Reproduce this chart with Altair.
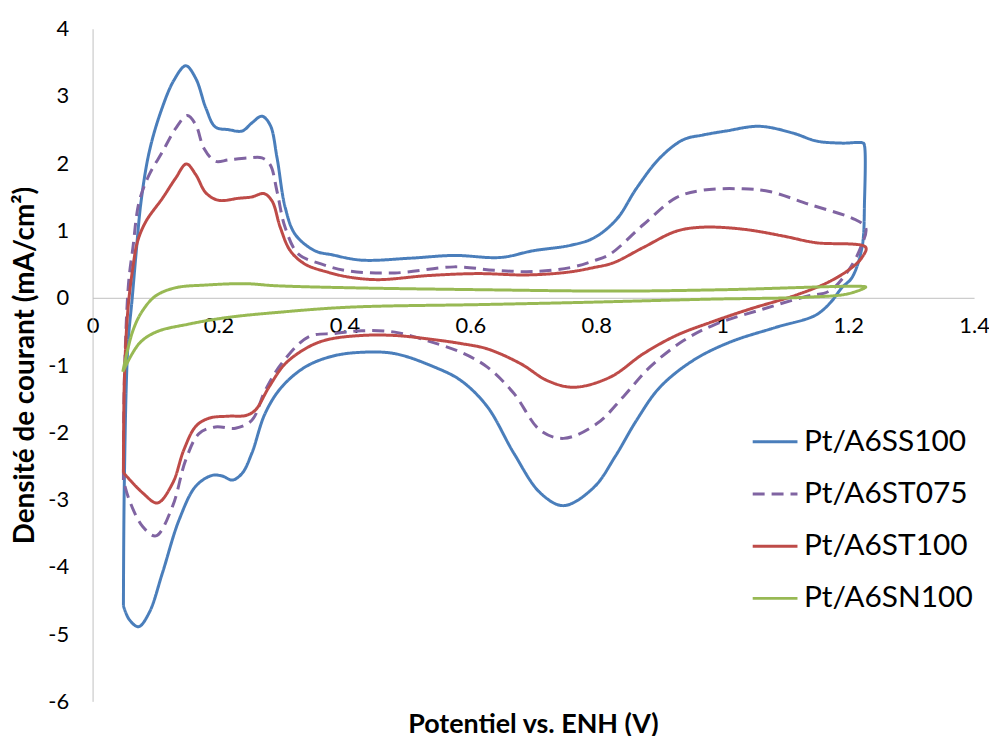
import altair as alt
import pandas as pd

SERIES = ["Pt/A6SS100", "Pt/A6ST075", "Pt/A6ST100", "Pt/A6SN100"]
COLORS = ["#4A7EBB", "#8064A2", "#BE4B48", "#98B954"]
DASHES = [[1, 0], [12, 7], [1, 0], [1, 0]]
X_TICKS = [0, 0.2, 0.4, 0.6, 0.8, 1.0, 1.2, 1.4]
Y_TICKS = [-6, -5, -4, -3, -2, -1, 0, 1, 2, 3, 4]

# Pt/A6SS100 (potential V, current density mA/cm2), anodic then cathodic scan
SS100_V = [0.049, 0.0505, 0.056, 0.063, 0.069, 0.077, 0.090, 0.1085, 0.1295, 0.148, 0.164, 0.180,
           0.195, 0.216, 0.2375, 0.253, 0.269, 0.282, 0.293, 0.306, 0.322, 0.353, 0.38, 0.427,
           0.506, 0.5745, 0.648, 0.70, 0.759, 0.796, 0.8325, 0.864, 0.901, 0.938, 0.969, 1.006,
           1.059, 1.112, 1.15, 1.19, 1.224, 1.226,
           1.226, 1.222, 1.206, 1.19, 1.172, 1.148, 1.085, 1.012, 0.954, 0.901, 0.864, 0.83, 0.796,
           0.748, 0.711, 0.669, 0.627, 0.585, 0.543, 0.48, 0.427, 0.38, 0.3375, 0.30, 0.274, 0.253,
           0.2375, 0.222, 0.206, 0.19, 0.164, 0.1375, 0.111, 0.090, 0.073, 0.058, 0.049]
SS100_J = [-4.58, -2.71, -0.73, 0.0, 0.65, 1.43, 2.17, 2.77, 3.24, 3.45, 3.26, 2.82,
           2.54, 2.50, 2.48, 2.60, 2.70, 2.57, 2.08, 1.34, 0.94, 0.70, 0.64, 0.56,
           0.59, 0.63, 0.60, 0.70, 0.78, 0.89, 1.17, 1.63, 2.08, 2.35, 2.42, 2.48,
           2.55, 2.45, 2.33, 2.30, 2.30, 2.26,
           1.44, 0.75, 0.30, 0.15, -0.07, -0.26, -0.44, -0.66, -0.93, -1.33, -1.82, -2.36, -2.82,
           -3.09, -2.90, -2.31, -1.62, -1.23, -1.03, -0.83, -0.81, -0.87, -1.03, -1.33, -1.72, -2.31,
           -2.61, -2.71, -2.65, -2.64, -2.80, -3.30, -4.09, -4.68, -4.89, -4.78, -4.58]

# Pt/A6ST075
ST075_V = [0.049, 0.0505, 0.057, 0.064, 0.074, 0.090, 0.111, 0.132, 0.1505, 0.164, 0.177, 0.195,
           0.216, 0.248, 0.269, 0.282, 0.293, 0.306, 0.327, 0.364, 0.406, 0.48, 0.5745, 0.638,
           0.70, 0.759, 0.796, 0.822, 0.875, 0.927, 0.969, 1.033, 1.075, 1.138, 1.212, 1.228,
           1.22, 1.20, 1.17, 1.133, 1.064, 0.99, 0.938, 0.885, 0.843, 0.801, 0.748, 0.711, 0.669,
           0.627, 0.585, 0.532, 0.48, 0.427, 0.385, 0.343, 0.30, 0.274, 0.253, 0.227, 0.195, 0.169,
           0.148, 0.127, 0.1005, 0.0795, 0.058, 0.049]
ST075_J = [-2.71, -1.23, 0.20, 0.74, 1.43, 1.83, 2.17, 2.52, 2.71, 2.57, 2.22, 2.03,
           2.05, 2.08, 2.08, 1.98, 1.58, 1.04, 0.65, 0.50, 0.40, 0.37, 0.46, 0.41,
           0.39, 0.45, 0.55, 0.65, 1.09, 1.49, 1.60, 1.62, 1.58, 1.39, 1.16, 1.04,
           0.75, 0.40, 0.10, 0.02, -0.17, -0.39, -0.64, -1.03, -1.47, -1.87, -2.09, -1.97, -1.42,
           -1.03, -0.81, -0.64, -0.51, -0.49, -0.53, -0.58, -0.98, -1.38, -1.82, -1.94, -1.92, -2.02,
           -2.41, -3.10, -3.54, -3.40, -3.00, -2.71]

# Pt/A6ST100
ST100_V = [0.049, 0.0505, 0.056, 0.064, 0.0715, 0.085, 0.111, 0.132, 0.149, 0.164, 0.18, 0.20,
           0.232, 0.253, 0.272, 0.285, 0.298, 0.314, 0.3375, 0.374, 0.406, 0.453, 0.532, 0.611,
           0.69, 0.754, 0.796, 0.827, 0.875, 0.927, 0.969, 1.033, 1.096, 1.148, 1.228,
           1.222, 1.206, 1.17, 1.117, 1.043, 0.98, 0.927, 0.875, 0.822, 0.764, 0.722, 0.68, 0.627,
           0.585, 0.532, 0.48, 0.427, 0.374, 0.343, 0.306, 0.28, 0.2585, 0.243, 0.216, 0.185, 0.164,
           0.145, 0.127, 0.103, 0.0795, 0.049]
ST100_J = [-2.60, -1.23, -0.19, 0.45, 0.84, 1.14, 1.48, 1.78, 1.99, 1.83, 1.56, 1.45,
           1.48, 1.50, 1.55, 1.44, 1.05, 0.70, 0.50, 0.38, 0.31, 0.27, 0.33, 0.36,
           0.34, 0.38, 0.45, 0.52, 0.75, 0.99, 1.05, 1.02, 0.92, 0.82, 0.75,
           0.60, 0.45, 0.24, 0.04, -0.17, -0.37, -0.56, -0.83, -1.18, -1.33, -1.23, -0.98, -0.76,
           -0.68, -0.61, -0.56, -0.56, -0.62, -0.73, -0.98, -1.33, -1.67, -1.75, -1.76, -1.79, -1.91,
           -2.26, -2.76, -3.05, -2.90, -2.60]

# Pt/A6SN100
SN100_V = [0.048, 0.064, 0.0795, 0.1005, 0.132, 0.18, 0.243, 0.29, 0.406, 0.62, 0.83, 1.0,
           1.222, 1.228, 1.20, 1.138, 0.98, 0.77, 0.62, 0.406, 0.29, 0.216, 0.153, 0.1005,
           0.074, 0.048]
SN100_J = [-1.10, -0.49, -0.19, 0.03, 0.15, 0.19, 0.21, 0.18, 0.15, 0.12, 0.10, 0.12,
           0.17, 0.16, 0.06, 0.01, -0.02, -0.07, -0.10, -0.14, -0.22, -0.29, -0.39, -0.51,
           -0.68, -1.10]

rows = []
for name, vs, js in [(SERIES[0], SS100_V, SS100_J), (SERIES[1], ST075_V, ST075_J),
                     (SERIES[2], ST100_V, ST100_J), (SERIES[3], SN100_V, SN100_J)]:
    for i, (v, j) in enumerate(zip(vs, js)):
        rows.append({"serie": name, "V": v, "J": j, "i": i})
df = pd.DataFrame(rows)

W, H = 886, 676
FONT = "Lato"

legend = alt.Legend(title=None, orient="none", legendX=662, legendY=391,
                    symbolType="stroke", symbolSize=2025, symbolStrokeWidth=3,
                    labelFontSize=30, labelFont=FONT, labelColor="black", labelLimit=0,
                    labelOffset=5, rowPadding=13.5)

chart = alt.Chart(df).mark_line(strokeWidth=3, interpolate="catmull-rom").encode(
    x=alt.X("V:Q", scale=alt.Scale(domain=[0, 1.4], nice=False, zero=False),
            axis=alt.Axis(values=X_TICKS, format="~g", orient="bottom", offset=-H * 0.6,
                          title=None, ticks=False, grid=False, domainColor="#BFBFBF",
                          domainWidth=1, labelFontSize=22, labelFont=FONT, labelColor="black",
                          labelPadding=18, labelFlush=False)),
    y=alt.Y("J:Q", scale=alt.Scale(domain=[-6, 4], nice=False),
            axis=alt.Axis(values=Y_TICKS, title="Densité de courant (mA/cm²)",
                          labelExpr="replace(datum.label, '\u2212', '-')",
                          ticks=False, grid=False, domainColor="#BFBFBF", domainWidth=1,
                          labelFontSize=22, labelFont=FONT, labelColor="black", labelPadding=24,
                          titleFont=FONT, titleFontSize=28, titleFontWeight="bold",
                          titleColor="black", titleX=-67, titleY=H / 2, titleAngle=270,
                          titleAlign="center", titleBaseline="middle")),
    color=alt.Color("serie:N", scale=alt.Scale(domain=SERIES, range=COLORS), legend=legend),
    strokeDash=alt.StrokeDash("serie:N", scale=alt.Scale(domain=SERIES, range=DASHES),
                              legend=legend),
    order=alt.Order("i:Q"),
).properties(
    width=W, height=H,
    background="white",
    autosize=alt.AutoSizeParams(type="none"),
    padding={"left": 85, "top": 19, "right": 15, "bottom": 45},
    title=alt.TitleParams("Potentiel vs. ENH (V)", orient="bottom", anchor="middle",
                          fontSize=27, fontWeight="bold", font=FONT, color="black", offset=0),
).configure_view(stroke=None)

chart.save("out.html", embed_options={"renderer": "svg", "actions": False})
